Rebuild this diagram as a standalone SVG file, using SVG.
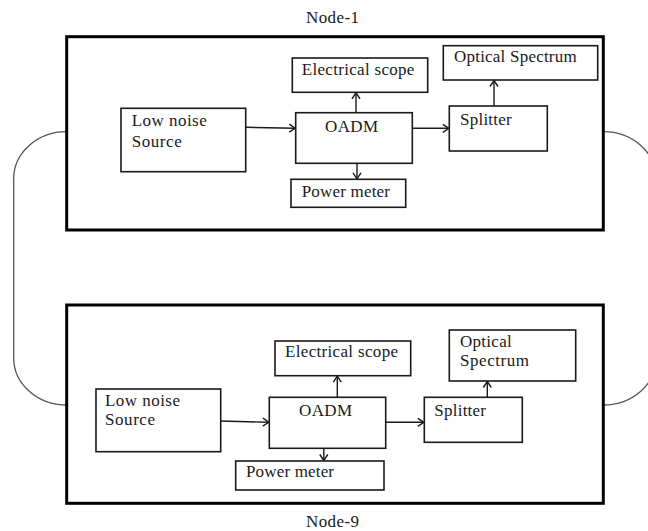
<svg xmlns="http://www.w3.org/2000/svg" width="648" height="531" viewBox="0 0 648 531">
<style>
.outer{fill:none;stroke:#000;stroke-width:3}
.box{fill:#fff;stroke:#1a1a1a;stroke-width:1.6}
.t{font-family:"Liberation Serif","Times New Roman",serif;font-size:17px;fill:#1a1a1a}
.loop{fill:none;stroke:#555;stroke-width:1.3}
.arr{fill:none;stroke:#1a1a1a;stroke-width:1.4;marker-end:url(#ah)}
</style>
<defs>
<marker id="ah" markerUnits="userSpaceOnUse" markerWidth="10" markerHeight="10" viewBox="-7 -5 9 10" refX="0" refY="0" orient="auto">
<path d="M-6,-4 L0,0 L-6,4" fill="none" stroke="#1a1a1a" stroke-width="1.4"/>
</marker>
</defs>
<rect width="648" height="531" fill="#fff"/>

<g id="connectors">
<path class="loop" d="M66.7,131.7 A53,47 0 0 0 13.7,178.7 L13.7,358 A53,47 0 0 0 66.7,405"/>
<path class="loop" d="M603.3,131.7 A53,47 0 0 1 656.3,178.7 L656.3,358 A53,47 0 0 1 603.3,405"/>
<path class="arr" d="M245.7,127.3 L295.2,128.3"/>
<path class="arr" d="M356,112.7 L356,92.8"/>
<path class="arr" d="M357,163.3 L357,178.8"/>
<path class="arr" d="M410,128.3 L448.8,128.3"/>
<path class="arr" d="M494,106 L494,80.5"/>
<path class="arr" d="M220.7,421 L268.8,422.3"/>
<path class="arr" d="M337.3,397.3 L337.3,376.2"/>
<path class="arr" d="M323.8,448.3 L323.8,460.5"/>
<path class="arr" d="M385.7,422.3 L423.8,422.3"/>
<path class="arr" d="M487.3,397.3 L487.3,381.5"/>
</g>

<g id="node1">
<text class="t" x="306" y="23.3" textLength="53" lengthAdjust="spacing">Node-1</text>
<rect class="outer" x="66.7" y="36.7" width="536.6" height="193.3"/>
</g>
<g id="n1-source">
<rect class="box" x="121" y="108.3" width="124.7" height="63.4"/>
<text class="t" x="131.7" y="126" textLength="75" lengthAdjust="spacing">Low noise</text>
<text class="t" x="131.7" y="146.7" textLength="50" lengthAdjust="spacing">Source</text>
</g>
<g id="n1-scope">
<rect class="box" x="292.3" y="58" width="135.4" height="34.3"/>
<text class="t" x="301.7" y="75" textLength="112.7" lengthAdjust="spacing">Electrical scope</text>
</g>
<g id="n1-oadm">
<rect class="box" x="295.7" y="112.7" width="116.6" height="50.6"/>
<text class="t" x="325" y="132.3" textLength="53" lengthAdjust="spacing">OADM</text>
</g>
<g id="n1-power">
<rect class="box" x="291" y="179.3" width="114.7" height="28"/>
<text class="t" x="301.7" y="196.7" textLength="88.3" lengthAdjust="spacing">Power meter</text>
</g>
<g id="n1-splitter">
<rect class="box" x="449.3" y="106" width="98" height="45"/>
<text class="t" x="460" y="125" textLength="51.7" lengthAdjust="spacing">Splitter</text>
</g>
<g id="n1-spectrum">
<rect class="box" x="443.3" y="45.7" width="154.4" height="34.3"/>
<text class="t" x="454" y="61.7" textLength="122.7" lengthAdjust="spacing">Optical Spectrum</text>
</g>

<g id="node9">
<rect class="outer" x="66.7" y="305" width="536.6" height="198.3"/>
<text class="t" x="306" y="526.5" textLength="53" lengthAdjust="spacing">Node-9</text>
</g>
<g id="n9-source">
<rect class="box" x="96" y="389" width="124.7" height="62.7"/>
<text class="t" x="105" y="406" textLength="75" lengthAdjust="spacing">Low noise</text>
<text class="t" x="105" y="425.3" textLength="50" lengthAdjust="spacing">Source</text>
</g>
<g id="n9-scope">
<rect class="box" x="275" y="341" width="135.7" height="34.7"/>
<text class="t" x="285" y="356.7" textLength="113" lengthAdjust="spacing">Electrical scope</text>
</g>
<g id="n9-oadm">
<rect class="box" x="269.3" y="397.3" width="116.4" height="51"/>
<text class="t" x="299" y="415.5" textLength="53" lengthAdjust="spacing">OADM</text>
</g>
<g id="n9-power">
<rect class="box" x="235.7" y="461" width="148.3" height="29"/>
<text class="t" x="246" y="477.3" textLength="88" lengthAdjust="spacing">Power meter</text>
</g>
<g id="n9-splitter">
<rect class="box" x="424.3" y="397.3" width="98" height="45"/>
<text class="t" x="434.3" y="415.7" textLength="51.7" lengthAdjust="spacing">Splitter</text>
</g>
<g id="n9-spectrum">
<rect class="box" x="449.3" y="330" width="126.4" height="51"/>
<text class="t" x="460" y="346.7" textLength="51.7" lengthAdjust="spacing">Optical</text>
<text class="t" x="460" y="366" textLength="69" lengthAdjust="spacing">Spectrum</text>
</g>
</svg>
